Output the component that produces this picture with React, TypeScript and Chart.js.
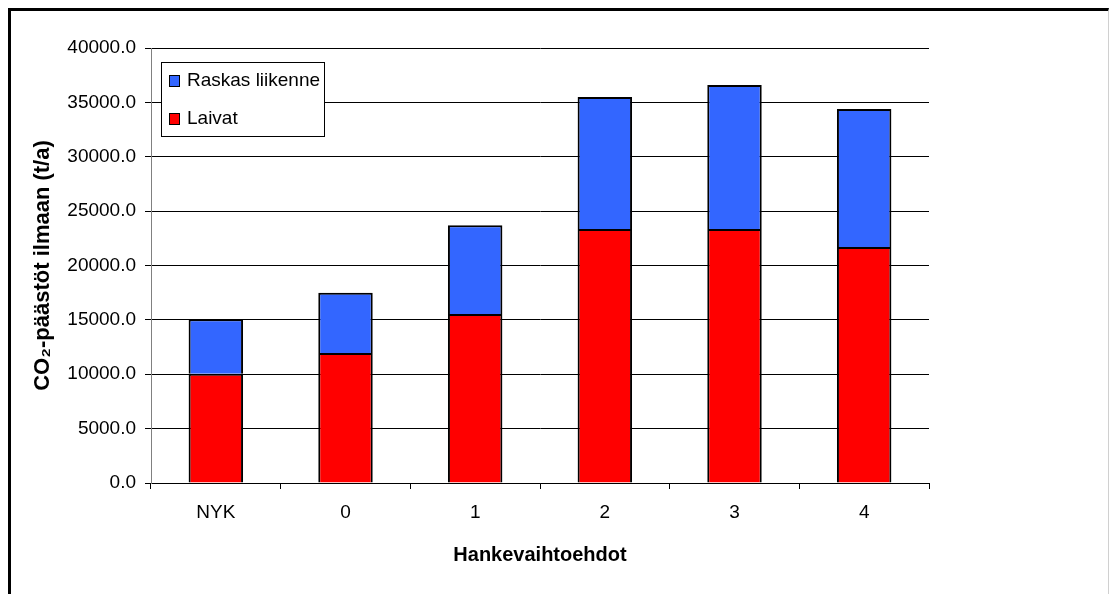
import React, { useEffect, useRef } from "react";
import { Chart, registerables } from "chart.js";

Chart.register(...registerables);

const categories = ["NYK", "0", "1", "2", "3", "4"];
const laivat = [10050, 11950, 15550, 23350, 23350, 21700];
const raskasLiikenne = [5000, 5550, 8150, 12150, 13250, 12700];
const yTickMin = 0;
const yTickMax = 40000;
const yTickStep = 5000;

const FONT = '"Liberation Sans", Arial, sans-serif';

const boxLegend = {
  id: "boxLegend",
  afterDraw(chart: any) {
    const ctx = chart.ctx;
    ctx.save();
    ctx.fillStyle = "#ffffff";
    ctx.fillRect(161, 62, 163, 74);
    ctx.strokeStyle = "#000000";
    ctx.lineWidth = 1;
    ctx.strokeRect(161.5, 62.5, 163, 74);
    const items = [...chart.data.datasets].reverse();
    items.forEach((ds: any, i: number) => {
      const cy = 81 + i * 38;
      ctx.fillStyle = ds.backgroundColor;
      ctx.fillRect(169, cy - 6, 11, 12);
      ctx.strokeStyle = "#000";
      ctx.strokeRect(169.5, cy - 5.5, 10, 11);
      ctx.fillStyle = "#000";
      ctx.font = `19px ${FONT}`;
      ctx.textBaseline = "middle";
      ctx.textAlign = "left";
      ctx.fillText(ds.label, 187, cy);
    });
    ctx.restore();
  },
};

export default function App() {
  const ref = useRef<HTMLCanvasElement | null>(null);
  useEffect(() => {
    if (!ref.current) return;
    const chart = new Chart(ref.current, {
      type: "bar",
      data: {
        labels: categories,
        datasets: [
          {
            label: "Laivat",
            data: laivat,
            backgroundColor: "#FF0000",
            borderColor: "#000000",
            borderWidth: 2,
            categoryPercentage: 1,
            barPercentage: 0.42,
          },
          {
            label: "Raskas liikenne",
            data: raskasLiikenne,
            backgroundColor: "#3366FF",
            borderColor: "#000000",
            borderWidth: 2,
            categoryPercentage: 1,
            barPercentage: 0.42,
          },
        ],
      },
      options: {
        responsive: false,
        animation: false,
        layout: { padding: { left: 0, top: 48, right: 180, bottom: 0 } },
        plugins: {
          legend: { display: false },
          tooltip: { enabled: false },
        },
        scales: {
          x: {
            stacked: true,
            afterFit: (s: any) => {
              s.height = 111;
            },
            grid: {
              drawOnChartArea: false,
              drawTicks: true,
              tickLength: 6,
              color: "#000",
              offset: true,
            },
            border: { color: "#000", width: 1 },
            ticks: {
              color: "#000",
              font: { family: FONT, size: 19 },
              padding: 12,
            },
            title: {
              display: true,
              text: "Hankevaihtoehdot",
              color: "#000",
              font: { family: FONT, size: 20, weight: "bold" },
              padding: { top: 0, bottom: 27 },
            },
          },
          y: {
            stacked: true,
            min: yTickMin,
            max: yTickMax,
            afterFit: (s: any) => {
              s.width = 151;
            },
            grid: {
              color: "#000",
              lineWidth: 1,
              tickLength: 6,
            },
            border: { color: "#808080", width: 1 },
            ticks: {
              stepSize: yTickStep,
              color: "#000",
              font: { family: FONT, size: 19 },
              padding: 9,
              callback: (v: any) => Number(v).toFixed(1),
            },
            title: {
              display: true,
              text: "CO₂-päästöt ilmaan (t/a)",
              color: "#000",
              font: { family: FONT, size: 22, weight: "bold" },
              padding: { top: 30, bottom: 0 },
            },
          },
        },
      },
      plugins: [boxLegend],
    });
    return () => chart.destroy();
  }, []);

  return (
    <div style={{ position: "absolute", left: 0, top: 0, width: 1109, height: 594, background: "#fff" }}>
      <canvas ref={ref} width={1109} height={594} style={{ position: "absolute", left: 0, top: 0 }} />
      <div
        style={{
          position: "absolute",
          left: 8,
          top: 8,
          width: 1101,
          height: 586,
          boxSizing: "border-box",
          borderTop: "3px solid #000",
          borderLeft: "3px solid #000",
          borderRight: "1px solid #d0d0d0",
          pointerEvents: "none",
        }}
      />
    </div>
  );
}
